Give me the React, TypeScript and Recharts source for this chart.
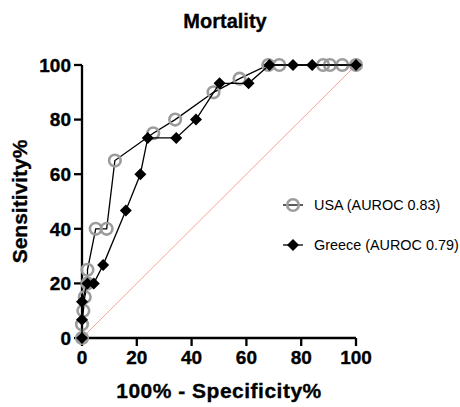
import React from 'react';
import { ScatterChart, Scatter, XAxis, YAxis, ReferenceLine, Customized } from 'recharts';

const chartTitle = 'Mortality';
const xAxisTitle = '100% - Specificity%';
const yAxisTitle = 'Sensitivity%';
const xTicks = [0, 20, 40, 60, 80, 100];
const yTicks = [0, 20, 40, 60, 80, 100];
const seriesNames = ['USA (AUROC 0.83)', 'Greece (AUROC 0.79)'];

const usaX = [0, 0, 0.5, 1, 2, 2, 5, 9, 12, 26, 34, 48, 57.5, 68, 72, 88, 90.5, 95, 100];
const usaY = [0, 5, 10, 15, 20, 25, 40, 40, 65, 75, 80, 90, 95, 100, 100, 100, 100, 100, 100];

const greeceX = [0, 0, 0, 2, 4.3, 7.7, 16, 21.3, 24, 34.4, 41.6, 50.2, 60.8, 68.4, 77, 84, 100];
const greeceY = [0, 6.7, 13.3, 20, 20, 26.7, 46.7, 60, 73.3, 73.3, 80, 93.3, 93.3, 100, 100, 100, 100];

const usaData = usaX.map((x, i) => ({ x, y: usaY[i] }));
const greeceData = greeceX.map((x, i) => ({ x, y: greeceY[i] }));

const FONT = '"Liberation Sans", Arial, Helvetica, sans-serif';
const GRAY = '#9c9c9c';

const CircleMark = (p: any) => (
  <circle cx={p.cx} cy={p.cy} r={5.8} fill="none" stroke={GRAY} strokeWidth={2.6} />
);
const DiamondMark = (p: any) => (
  <polygon
    points={`${p.cx},${p.cy - 6} ${p.cx + 6},${p.cy} ${p.cx},${p.cy + 6} ${p.cx - 6},${p.cy}`}
    fill="#000"
  />
);

const LegendBlock = () => {
  const x0 = 283;
  const rows = [205, 245];
  return (
    <g>
      {seriesNames.map((name, i) => {
        const y = rows[i];
        const cx = x0 + 10;
        return (
          <g key={name}>
            <line x1={x0} y1={y} x2={x0 + 20} y2={y} stroke="#000" strokeWidth={1.3} />
            {i === 0 ? <CircleMark cx={cx} cy={y} /> : <DiamondMark cx={cx} cy={y} />}
            <text x={314} y={y} dy="0.35em" fontSize={14.4} fontFamily={FONT} fill="#000">
              {name}
            </text>
          </g>
        );
      })}
      <text x={225} y={21} dy="0.35em" textAnchor="middle" fontSize={20} fontWeight="bold" fontFamily={FONT} fill="#000" stroke="#000" strokeWidth={0.3}>
        {chartTitle}
      </text>
    </g>
  );
};

export default function App() {
  const tickStyle = { fontSize: 19, fontWeight: 'bold', fill: '#000', fontFamily: FONT, stroke: '#000', strokeWidth: 0.35 };
  return (
    <div style={{ position: 'absolute', left: 0, top: 0, width: 460, height: 407, background: '#fff' }}>
      <ScatterChart width={460} height={407} margin={{ top: 65, right: 104, bottom: 29, left: 0 }}>
        <XAxis
          type="number"
          dataKey="x"
          domain={[0, 100]}
          ticks={xTicks}
          interval={0}
          height={40}
          axisLine={{ stroke: '#000', strokeWidth: 2.3 }}
          tickLine={{ stroke: '#000', strokeWidth: 2.3 }}
          tickSize={8}
          tickMargin={5}
          tick={tickStyle}
          label={{
            value: xAxisTitle,
            position: 'bottom',
            offset: 5,
            style: { fontSize: 21, fontWeight: 'bold', fill: '#000', fontFamily: FONT, letterSpacing: 0.5, stroke: '#000', strokeWidth: 0.35 },
          }}
        />
        <YAxis
          type="number"
          dataKey="y"
          domain={[0, 100]}
          ticks={yTicks}
          interval={0}
          width={82}
          axisLine={{ stroke: '#000', strokeWidth: 2.3 }}
          tickLine={{ stroke: '#000', strokeWidth: 2.3 }}
          tickSize={8}
          tickMargin={3}
          tick={tickStyle}
          label={{
            value: yAxisTitle,
            angle: -90,
            position: 'insideLeft',
            offset: 20,
            style: { fontSize: 21, fontWeight: 'bold', fill: '#000', fontFamily: FONT, textAnchor: 'middle', stroke: '#000', strokeWidth: 0.35 },
          }}
        />
        <ReferenceLine
          segment={[{ x: 0, y: 0 }, { x: 100, y: 100 }]}
          stroke="#f4a596"
          strokeWidth={1}
          ifOverflow="visible"
        />
        <Scatter
          name={seriesNames[0]}
          data={usaData}
          line={{ stroke: '#000', strokeWidth: 1.3 }}
          lineType="joint"
          shape={CircleMark}
          fill={GRAY}
          isAnimationActive={false}
        />
        <Scatter
          name={seriesNames[1]}
          data={greeceData}
          line={{ stroke: '#000', strokeWidth: 1.3 }}
          lineType="joint"
          shape={DiamondMark}
          fill="#000"
          isAnimationActive={false}
        />
        <Customized component={LegendBlock} />
      </ScatterChart>
    </div>
  );
}
